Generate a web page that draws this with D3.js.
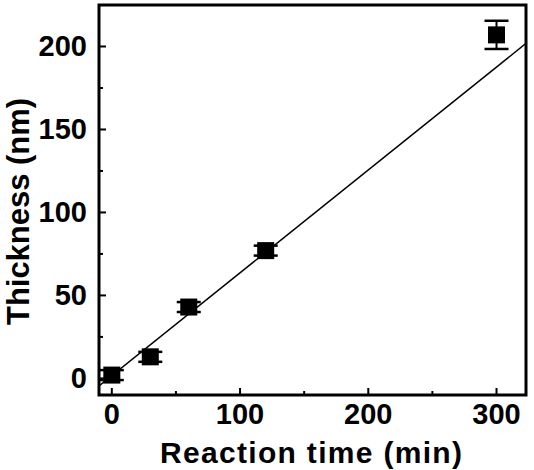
<!DOCTYPE html>
<html><head><meta charset="utf-8">
<script src="https://cdn.jsdelivr.net/npm/d3@7/dist/d3.min.js"></script>
<style>body{margin:0;background:#fff}svg{display:block}</style>
</head><body>
<script>
const timeMin = [0, 30, 60, 120, 300];
const thickness = [2, 13, 43, 77, 207];
const errThick = [3, 3, 3, 3, 8.5];
const fitIntercept = 1.6, fitSlope = 0.62;
const xTicks = [0, 100, 200, 300];
const yTicks = [0, 50, 100, 150, 200];

const W = 534, H = 470;
const L = 99, R = 526, T = 5, B = 395;
const svg = d3.select("body").append("svg").attr("width", W).attr("height", H);
const x = d3.scaleLinear().domain([-10, 323]).range([L, R]);
const y = d3.scaleLinear().domain([-10, 225]).range([B, T]);
const font = "'Liberation Sans', Arial, sans-serif";

svg.append("clipPath").attr("id","c").append("rect").attr("x",L).attr("y",T).attr("width",R-L).attr("height",B-T);
const xs = x.domain();
svg.append("line").attr("clip-path","url(#c)")
  .attr("x1", x(xs[0])).attr("y1", y(fitIntercept + fitSlope*xs[0]))
  .attr("x2", x(xs[1])).attr("y2", y(fitIntercept + fitSlope*xs[1]))
  .attr("stroke","#000").attr("stroke-width",1.5);

const data = timeMin.map((t,i)=>({t, v:thickness[i], e:errThick[i]}));
const g = svg.append("g");
data.forEach(d=>{
  const cx = x(d.t);
  g.append("line").attr("x1",cx).attr("x2",cx).attr("y1",y(d.v-d.e)).attr("y2",y(d.v+d.e)).attr("stroke","#000").attr("stroke-width",2);
  [d.v-d.e, d.v+d.e].forEach(v=>g.append("line").attr("x1",cx-12).attr("x2",cx+12).attr("y1",y(v)).attr("y2",y(v)).attr("stroke","#000").attr("stroke-width",2.5));
  g.append("rect").attr("x",cx-8.5).attr("y",y(d.v)-8.5).attr("width",17).attr("height",17).attr("fill","#000");
});

d3.range(0,301,50).forEach(v=>{
  const len = v%100===0?7:4;
  svg.append("line").attr("x1",x(v)).attr("x2",x(v)).attr("y1",B).attr("y2",B-len).attr("stroke","#000").attr("stroke-width",2);
});
d3.range(0,226,25).forEach(v=>{
  const len = v%50===0?7:4;
  svg.append("line").attr("x1",L).attr("x2",L+len).attr("y1",y(v)).attr("y2",y(v)).attr("stroke","#000").attr("stroke-width",2);
});
svg.append("rect").attr("x",L).attr("y",T).attr("width",R-L).attr("height",B-T).attr("fill","none").attr("stroke","#000").attr("stroke-width",3);

svg.append("g").selectAll("text").data(xTicks).join("text")
  .attr("x",d=>x(d)).attr("y",424).attr("text-anchor","middle")
  .attr("font-family",font).attr("font-weight","bold").attr("font-size",29).text(d=>d);
svg.append("g").selectAll("text").data(yTicks).join("text")
  .attr("x",87).attr("y",d=>y(d)+10).attr("text-anchor","end")
  .attr("font-family",font).attr("font-weight","bold").attr("font-size",29).text(d=>d);

svg.append("text").attr("x",160).attr("y",463)
  .attr("font-family",font).attr("font-weight","bold").attr("font-size",30)
  .attr("textLength",302).attr("lengthAdjust","spacing")
  .text("Reaction time (min)");
svg.append("text").attr("transform","translate(29,325) rotate(-90)")
  .attr("font-family",font).attr("font-weight","bold").attr("font-size",31)
  .attr("textLength",227).attr("lengthAdjust","spacingAndGlyphs")
  .text("Thickness (nm)");
</script>
</body></html>
